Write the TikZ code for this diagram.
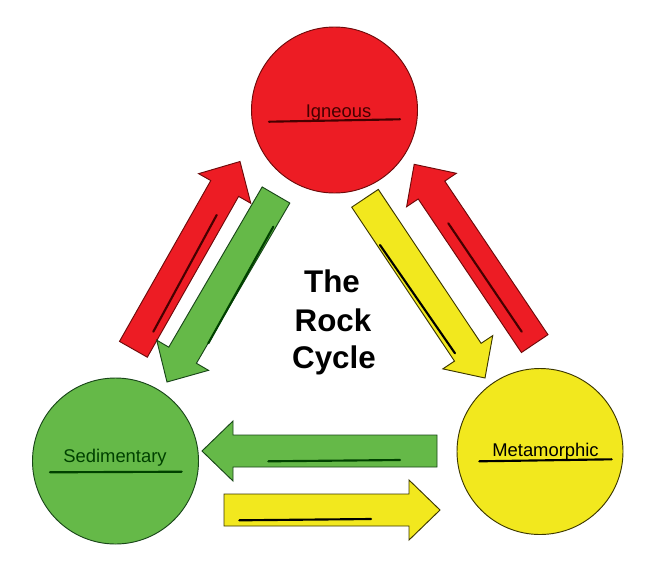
\documentclass[tikz,border=0pt]{standalone}
\usepackage{fontspec}
\newfontfamily\arial{Liberation Sans}
\usetikzlibrary{calc}
\definecolor{rockred}{RGB}{237,28,36}
\definecolor{rockgreen}{RGB}{101,185,72}
\definecolor{rockyellow}{RGB}{242,232,30}
\definecolor{rededge}{RGB}{110,10,10}
\definecolor{greenedge}{RGB}{25,70,25}
\definecolor{yellowedge}{RGB}{60,55,0}
\definecolor{redtext}{RGB}{70,0,0}
\definecolor{greentext}{RGB}{0,65,0}
% block arrow: #1 style, #2 tail coordinate, #3 tip coordinate
\newcommand\blockarr[3]{%
  \coordinate (#2-h) at ($(#3)!23.25pt!(#2)$);
  \draw[#1] ($(#2)!12pt!90:(#3)$) -- ($(#2-h)!12pt!90:(#3)$)
    -- ($(#2-h)!22.5pt!90:(#3)$) -- (#3)
    -- ($(#2-h)!22.5pt!-90:(#3)$) -- ($(#2-h)!12pt!-90:(#3)$)
    -- ($(#2)!12pt!-90:(#3)$) -- cycle;}
\begin{document}
\begin{tikzpicture}[x=0.75pt,y=-0.75pt,
  rock/.style={circle, minimum size=124.5pt, inner sep=0pt, line width=0.7pt},
  lbl/.style={font=\arial\fontsize{13.8}{16}\selectfont, anchor=base, inner sep=0pt},
  ttl/.style={font=\arial\bfseries\fontsize{23.5}{28}\selectfont, anchor=base, inner sep=0pt},
  redarr/.style={fill=rockred, draw=rededge, line width=0.7pt},
  greenarr/.style={fill=rockgreen, draw=greenedge, line width=0.7pt},
  yellowarr/.style={fill=rockyellow, draw=yellowedge, line width=0.7pt},
  mark line/.style={line width=1.6pt, line cap=round}]
\useasboundingbox (0,0) rectangle (655,564);
\fill[white] (0,0) rectangle (655,564);

% rock circles
\node[rock, fill=rockred, draw=rededge] (ign) at (334.5,110) {};
\node[rock, fill=rockgreen, draw=greenedge] (sed) at (115.5,461) {};
\node[rock, fill=rockyellow, draw=yellowedge] (met) at (540,451.5) {};

% labels and blanks
\node[lbl, text=redtext] (ign-t) at (338.5,117) {Igneous};
\coordinate (ign-l1) at (269,121.7); \coordinate (ign-l2) at (400,119.3);
\draw[mark line, redtext] (ign-l1) -- (ign-l2);
\node[lbl, text=greentext] (sed-t) at (115,462) {Sedimentary};
\coordinate (sed-l1) at (50,472.3); \coordinate (sed-l2) at (181.7,471.7);
\draw[mark line, greentext] (sed-l1) -- (sed-l2);
\node[lbl, text=black] (met-t) at (545.5,456) {Metamorphic};
\coordinate (met-l1) at (479.3,461.3); \coordinate (met-l2) at (611.7,459.3);
\draw[mark line, black] (met-l1) -- (met-l2);

% arrow end points
\coordinate (a1) at (133.4,349.3); \coordinate (b1) at (240,161.5);   % sed -> ign (red)
\coordinate (a2) at (276,195);     \coordinate (b2) at (167,382);     % ign -> sed (green)
\coordinate (a3) at (365,198.3);   \coordinate (b3) at (485,378);     % ign -> met (yellow)
\coordinate (a4) at (534.7,343.6); \coordinate (b4) at (414.2,164.3); % met -> ign (red)
\coordinate (a5) at (437,451);     \coordinate (b5) at (202,451);     % met -> sed (green)
\coordinate (a6) at (224,510);     \coordinate (b6) at (440,510);     % sed -> met (yellow)

\blockarr{redarr}{a1}{b1}
\blockarr{greenarr}{a2}{b2}
\blockarr{yellowarr}{a3}{b3}
\blockarr{redarr}{a4}{b4}
\blockarr{greenarr}{a5}{b5}
\blockarr{yellowarr}{a6}{b6}

% blanks inside arrows
\coordinate (m1a) at (216.7,215);   \coordinate (m1b) at (153.3,331.7);
\draw[mark line, redtext] (m1a) -- (m1b);
\coordinate (m2a) at (273.3,226.7); \coordinate (m2b) at (208.3,343.3);
\draw[mark line, greentext] (m2a) -- (m2b);
\coordinate (m3a) at (380,245);     \coordinate (m3b) at (455,353.3);
\draw[mark line, black] (m3a) -- (m3b);
\coordinate (m4a) at (448.3,223.3); \coordinate (m4b) at (521.7,331.7);
\draw[mark line, redtext] (m4a) -- (m4b);
\coordinate (m5a) at (268.3,461.3); \coordinate (m5b) at (400,460);
\draw[mark line, greentext] (m5a) -- (m5b);
\coordinate (m6a) at (239.3,520.3); \coordinate (m6b) at (371,519);
\draw[mark line, black] (m6a) -- (m6b);

% title
\node[ttl] (title1) at (332,292.7) {The};
\node[ttl] (title2) at (333,331) {Rock};
\node[ttl] (title3) at (334,368.5) {Cycle};
\end{tikzpicture}
\end{document}
